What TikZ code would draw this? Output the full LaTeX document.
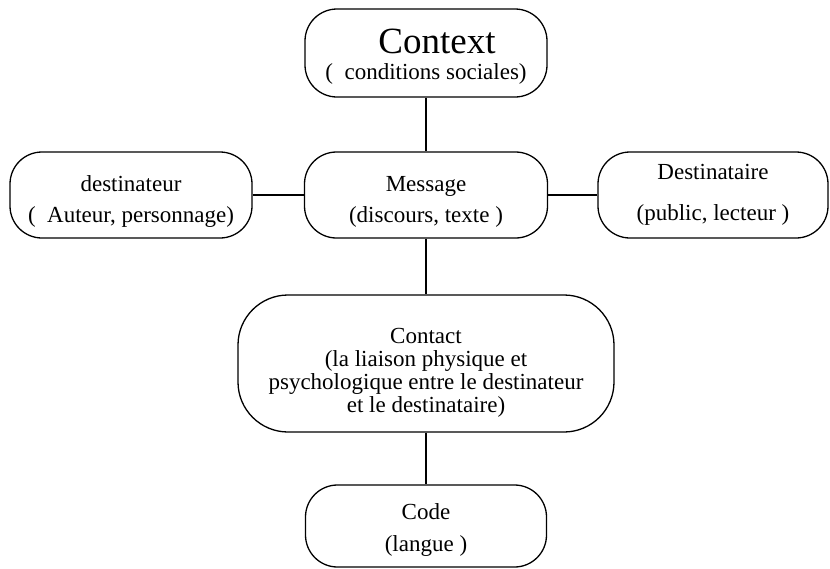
\documentclass[tikz,border=0pt]{standalone}
\usepackage{fontspec}
\setmainfont{Liberation Serif}
\usetikzlibrary{positioning}
\newcommand{\dropby}[1]{\rule{0pt}{#1}}

\begin{document}
\begin{tikzpicture}[x=1pt, y=-1pt, line width=1.3pt,
  box/.style={draw, rounded corners=32pt, align=center, inner sep=0pt,
    minimum height=86pt, font=\fontsize{23}{23}\selectfont},
  every edge/.style={draw, line width=1.3pt}]
\useasboundingbox (0,0) rectangle (830,568);
\node[box, minimum width=242pt, minimum height=88pt](ctx) at (426,53)
  {{\fontsize{37}{37}\selectfont\dropby{32pt}\hspace*{22pt}Context}\\[3pt](\ \ conditions sociales)};
\node[box, minimum width=243pt](msg) at (426,195) {\dropby{28pt}Message\\[8pt](discours, texte\ )};
\node[box, minimum width=242pt](dest) at (131,195) {\dropby{28pt}destinateur\\[8pt](\ \ Auteur, personnage)};
\node[box, minimum width=230pt](dst) at (713,195) {Destinataire\\[18pt](public, lecteur\ )};
\node[box, minimum width=376pt, minimum height=137pt, rounded corners=50pt](ctc) at (426,363.5)
  {\dropby{34pt}Contact\\(la liaison physique et\\psychologique entre le destinateur\\et le destinataire)};
\node[box, minimum width=241pt, minimum height=82pt](code) at (426,526) {\dropby{24pt}Code\\[9pt](langue\ )};
\path (ctx) edge (msg);
\path (dest) edge (msg);
\path (msg) edge (dst);
\path (msg) edge (ctc);
\path (ctc) edge (code);
\end{tikzpicture}
\end{document}
